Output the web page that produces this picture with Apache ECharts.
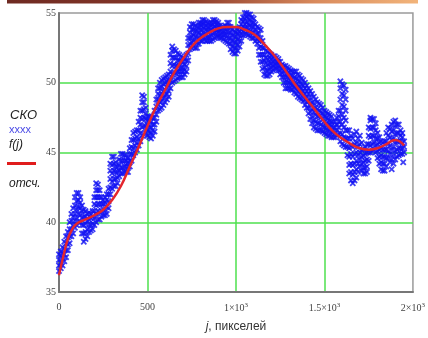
<!DOCTYPE html>
<html>
<head>
<meta charset="utf-8">
<script src="https://cdn.jsdelivr.net/npm/echarts@6/dist/echarts.min.js"></script>
<style>
html, body { margin: 0; padding: 0; background: #fff; }
#chart { width: 428px; height: 338px; }
</style>
</head>
<body>
<div id="chart"></div>
<script>
// СКО отсчётов: [j, y1, y2, ...]
var skoRows = [
    [0, 36.5, 36.9, 37.3, 37.7], [10, 36.7, 37.1, 37.6, 37.9], [20, 36.9, 37.4, 37.8, 38.2],
    [30, 37.2, 37.7, 38.1, 38.6], [40, 37.5, 38.0, 38.5, 39.0], [50, 38.0, 38.4, 38.9, 39.3],
    [60, 38.5, 39.0, 39.5, 40.0], [70, 39.0, 39.5, 40.1, 40.6], [80, 39.2, 39.8, 40.4, 41.0],
    [90, 39.6, 40.1, 40.6, 41.2, 41.8], [100, 39.8, 40.3, 40.9, 41.5, 42.1], [110, 40.0, 40.6, 41.1, 41.6, 42.1],
    [120, 40.0, 40.5, 41.0, 41.4, 41.8], [130, 39.2, 39.8, 40.3, 40.8, 41.2], [140, 38.6, 39.2, 39.8, 40.4, 40.9],
    [150, 38.8, 39.3, 39.9, 40.4, 40.8], [160, 39.0, 39.5, 40.1, 40.6], [170, 39.3, 39.8, 40.2, 40.7],
    [180, 39.4, 39.8, 40.3, 40.6], [190, 39.5, 39.9, 40.4, 40.8], [200, 39.8, 40.3, 40.8, 41.3, 41.8],
    [210, 40.0, 40.6, 41.2, 41.8, 42.3, 42.8], [220, 40.2, 40.8, 41.3, 41.8, 42.3, 42.7], [230, 40.2, 40.7, 41.3, 41.8, 42.3],
    [240, 40.4, 40.8, 41.3, 41.8], [250, 40.5, 40.9, 41.3, 41.6], [260, 40.5, 40.9, 41.4, 41.8],
    [270, 40.6, 41.1, 41.6, 42.0], [280, 41.0, 41.5, 42.0, 42.4], [290, 42.0, 42.5, 43.1, 43.7, 44.2],
    [300, 42.4, 42.9, 43.5, 44.1, 44.7], [310, 42.6, 43.1, 43.7, 44.2, 44.7], [320, 42.6, 43.1, 43.6, 44.0, 44.3],
    [330, 42.8, 43.2, 43.6, 44.0], [340, 43.3, 43.7, 44.1, 44.5], [350, 43.5, 43.9, 44.4, 44.9],
    [360, 43.5, 43.9, 44.4, 44.9], [370, 43.6, 44.0, 44.4, 44.8], [380, 43.6, 44.0, 44.4, 44.8],
    [390, 43.6, 44.0, 44.3, 44.6], [400, 44.0, 44.4, 44.9, 45.3], [410, 44.4, 44.9, 45.4, 45.9],
    [420, 44.8, 45.3, 45.9, 46.4], [430, 45.0, 45.5, 46.0, 46.5], [440, 45.2, 45.7, 46.1, 46.6],
    [450, 45.5, 46.0, 46.6, 47.2], [460, 45.8, 46.4, 47.0, 47.5, 48.0], [470, 46.2, 46.8, 47.4, 48.0, 48.6, 49.1],
    [480, 46.3, 46.9, 47.5, 48.1, 48.6, 49.0], [490, 46.4, 46.9, 47.4, 47.8, 48.2], [500, 46.2, 46.6, 47.0, 47.3, 47.6],
    [510, 46.1, 46.5, 46.9, 47.3, 47.6], [520, 46.0, 46.4, 46.8, 47.2, 47.5], [530, 46.2, 46.6, 47.0, 47.5],
    [540, 46.5, 47.0, 47.5, 48.0], [550, 47.2, 47.7, 48.3, 48.8], [560, 48.0, 48.4, 48.8, 49.2, 49.6],
    [570, 48.1, 48.6, 49.1, 49.6, 50.0], [580, 48.2, 48.7, 49.2, 49.7, 50.2], [590, 48.4, 48.9, 49.4, 49.9, 50.3],
    [600, 48.6, 49.1, 49.5, 50.0, 50.4], [610, 48.8, 49.2, 49.7, 50.1, 50.5], [620, 49.0, 49.4, 49.8, 50.2, 50.6],
    [630, 49.6, 50.2, 50.8, 51.4, 52.0], [640, 50.0, 50.6, 51.2, 51.8, 52.3, 52.6], [650, 50.1, 50.7, 51.3, 51.8, 52.4],
    [660, 50.2, 50.7, 51.2, 51.8, 52.3], [670, 50.3, 50.8, 51.2, 51.6, 52.1], [680, 50.4, 50.8, 51.2, 51.6, 52.0],
    [690, 50.4, 50.8, 51.1, 51.5, 51.9], [700, 50.4, 50.8, 51.1, 51.5, 51.8], [710, 50.6, 50.9, 51.3, 51.7],
    [720, 50.8, 51.2, 51.6, 52.0], [730, 51.6, 52.1, 52.7, 53.2], [740, 52.4, 52.8, 53.2, 53.6, 54.0],
    [750, 52.5, 52.9, 53.3, 53.8, 54.2], [760, 52.6, 53.0, 53.4, 53.8, 54.2], [770, 52.5, 52.9, 53.3, 53.7, 54.1],
    [780, 52.5, 52.9, 53.3, 53.7, 54.0], [790, 52.8, 53.2, 53.6, 54.0, 54.3], [800, 53.0, 53.4, 53.8, 54.1, 54.3],
    [810, 53.0, 53.4, 53.8, 54.2, 54.5], [820, 53.1, 53.5, 53.9, 54.2, 54.5], [830, 53.0, 53.4, 53.8, 54.1, 54.4],
    [840, 53.0, 53.3, 53.7, 54.0, 54.3], [850, 53.0, 53.3, 53.7, 54.0, 54.3], [860, 53.0, 53.4, 53.8, 54.1, 54.3],
    [870, 53.1, 53.5, 53.9, 54.2, 54.5], [880, 53.2, 53.6, 54.0, 54.3, 54.5], [890, 53.3, 53.6, 53.9, 54.2, 54.4],
    [900, 53.3, 53.6, 53.9, 54.1, 54.3], [910, 53.2, 53.5, 53.8, 54.1], [920, 53.2, 53.5, 53.8, 54.0],
    [930, 53.1, 53.4, 53.7, 54.0], [940, 53.0, 53.4, 53.7, 54.1], [950, 52.9, 53.3, 53.7, 54.0, 54.3],
    [960, 52.8, 53.2, 53.6, 54.0, 54.3], [970, 52.4, 52.8, 53.2, 53.6, 54.0], [980, 52.2, 52.6, 53.0, 53.4, 53.8],
    [990, 52.1, 52.5, 52.9, 53.3, 53.7], [1000, 52.1, 52.5, 52.9, 53.3, 53.6], [1010, 52.3, 52.7, 53.1, 53.5, 53.8],
    [1020, 52.6, 53.0, 53.4, 53.7, 54.0], [1030, 53.0, 53.4, 53.8, 54.2, 54.5], [1040, 53.4, 53.7, 54.0, 54.4, 54.7],
    [1050, 53.5, 53.9, 54.2, 54.6, 55.0], [1060, 53.5, 53.9, 54.3, 54.7, 55.0], [1070, 53.4, 53.8, 54.2, 54.6, 54.9],
    [1080, 53.3, 53.7, 54.1, 54.5, 54.9], [1090, 53.2, 53.6, 54.0, 54.3, 54.7], [1100, 53.2, 53.6, 54.0, 54.3, 54.6],
    [1110, 53.0, 53.4, 53.8, 54.2], [1120, 52.8, 53.1, 53.5, 54.0], [1130, 52.0, 52.5, 53.0, 53.5, 53.9],
    [1140, 51.5, 52.0, 52.6, 53.2, 53.8], [1150, 51.0, 51.5, 52.0, 52.5, 53.0], [1160, 50.6, 51.1, 51.6, 52.0, 52.5],
    [1170, 50.5, 50.9, 51.4, 51.8, 52.3], [1180, 50.5, 50.9, 51.3, 51.7, 52.2], [1190, 50.6, 51.0, 51.4, 51.8, 52.1],
    [1200, 50.8, 51.1, 51.4, 51.7, 52.0], [1210, 50.9, 51.2, 51.5, 51.9], [1220, 51.0, 51.3, 51.6, 51.9],
    [1230, 51.0, 51.3, 51.5, 51.8], [1240, 50.9, 51.2, 51.5, 51.7], [1250, 50.6, 50.9, 51.2, 51.5],
    [1260, 50.4, 50.7, 51.0, 51.3], [1270, 50.0, 50.4, 50.8, 51.2], [1280, 49.6, 50.0, 50.4, 50.8, 51.2],
    [1290, 49.6, 50.0, 50.4, 50.7, 51.1], [1300, 49.6, 50.0, 50.3, 50.7, 51.0], [1310, 49.5, 49.9, 50.2, 50.5, 50.9],
    [1320, 49.5, 49.8, 50.1, 50.5, 50.8], [1330, 49.3, 49.7, 50.0, 50.4, 50.8], [1340, 49.2, 49.6, 49.9, 50.3, 50.8],
    [1350, 49.0, 49.4, 49.8, 50.2, 50.6], [1360, 48.9, 49.3, 49.7, 50.1, 50.5], [1370, 48.8, 49.2, 49.6, 49.9, 50.3],
    [1380, 48.7, 49.1, 49.4, 49.8, 50.2], [1390, 48.4, 48.8, 49.2, 49.6, 50.0], [1400, 48.2, 48.6, 49.0, 49.4, 49.8],
    [1410, 47.8, 48.2, 48.7, 49.2, 49.6], [1420, 47.4, 47.9, 48.4, 48.9, 49.4], [1430, 47.1, 47.6, 48.1, 48.6, 49.2],
    [1440, 46.8, 47.3, 47.9, 48.5, 49.0], [1450, 46.7, 47.2, 47.7, 48.2, 48.8], [1460, 46.6, 47.1, 47.6, 48.1, 48.6],
    [1470, 46.6, 47.1, 47.6, 48.0, 48.5], [1480, 46.6, 47.0, 47.5, 47.9, 48.4], [1490, 46.5, 46.9, 47.4, 47.8, 48.2],
    [1500, 46.4, 46.8, 47.2, 47.6, 48.0], [1510, 46.3, 46.7, 47.1, 47.5, 47.9], [1520, 46.2, 46.6, 47.0, 47.4, 47.8],
    [1530, 46.2, 46.6, 47.0, 47.3, 47.7], [1540, 46.1, 46.5, 46.9, 47.2, 47.6], [1550, 46.1, 46.5, 46.8, 47.2],
    [1560, 46.1, 46.4, 46.8, 47.2], [1570, 46.2, 46.6, 47.0, 47.5], [1580, 46.3, 46.8, 47.2, 47.6, 48.0],
    [1590, 45.8, 46.4, 47.2, 48.0, 48.8, 49.6, 50.1], [1600, 45.6, 46.3, 47.0, 47.7, 48.4, 49.2, 49.9],
    [1610, 45.5, 46.1, 46.8, 47.5, 48.3, 49.1, 49.8], [1620, 45.4, 46.0, 46.6, 47.3, 48.0, 48.8, 49.5],
    [1630, 44.8, 45.4, 46.0, 46.6], [1640, 43.5, 44.1, 44.7, 45.3, 46.0, 46.6], [1650, 43.0, 43.6, 44.2, 44.9, 45.5, 46.2],
    [1660, 42.8, 43.4, 44.1, 44.7, 45.4, 46.0], [1670, 43.0, 43.6, 44.2, 44.9, 45.6, 46.3], [1680, 43.2, 43.8, 44.4, 45.0, 45.7, 46.5],
    [1690, 43.6, 44.2, 44.8, 45.4, 46.0], [1700, 44.0, 44.5, 45.0, 45.6, 46.2], [1710, 43.7, 44.2, 44.7, 45.2, 45.7],
    [1720, 43.5, 43.9, 44.3, 44.8, 45.2], [1730, 43.5, 43.9, 44.4, 44.9, 45.4], [1740, 43.6, 44.0, 44.5, 45.0, 45.6],
    [1750, 44.4, 45.0, 45.6, 46.2, 46.8], [1760, 45.0, 45.5, 46.1, 46.7, 47.3, 47.5], [1770, 45.1, 45.6, 46.2, 46.8, 47.4],
    [1780, 45.2, 45.7, 46.2, 46.8, 47.4], [1790, 45.0, 45.5, 46.0, 46.6, 47.1], [1800, 44.6, 45.1, 45.6, 46.0, 46.4],
    [1810, 44.2, 44.7, 45.2, 45.7, 46.1], [1820, 43.8, 44.3, 44.8, 45.3, 45.8], [1830, 43.7, 44.2, 44.7, 45.2, 45.7],
    [1840, 43.7, 44.2, 44.7, 45.2, 45.8], [1850, 44.0, 44.6, 45.2, 45.8, 46.4], [1860, 44.6, 45.1, 45.6, 46.2, 46.8],
    [1870, 44.3, 44.9, 45.5, 46.1, 46.7], [1880, 43.8, 44.5, 45.2, 45.9, 46.5, 47.0], [1890, 44.2, 44.8, 45.4, 46.0, 46.6, 47.2],
    [1900, 44.5, 45.1, 45.7, 46.3, 46.9, 47.3], [1910, 44.7, 45.2, 45.8, 46.4, 47.0], [1920, 44.8, 45.3, 45.8, 46.4, 47.0],
    [1930, 44.9, 45.3, 45.8, 46.2, 46.6], [1940, 44.9, 45.3, 45.7, 46.1, 46.4], [1950, 45.0, 45.4, 45.8],
    [1945, 44.3]
];

// аппроксимация f(j)
var fJ = [0, 25, 50, 75, 100, 150, 200, 250, 300, 350, 400, 450, 500, 550, 600, 650, 700, 750, 800, 850,
    900, 950, 1000, 1050, 1100, 1150, 1200, 1250, 1300, 1350, 1400, 1450, 1500, 1550, 1600, 1650, 1700,
    1750, 1800, 1850, 1900, 1950];
var fY = [36.2, 37.6, 38.8, 39.5, 39.9, 40.2, 40.5, 40.9, 41.6, 42.6, 44.0, 45.4, 46.9, 48.3, 49.5, 50.7, 51.7,
    52.6, 53.2, 53.6, 53.9, 54.0, 54.0, 53.8, 53.5, 52.9, 52.2, 51.4, 50.5, 49.6, 48.8, 48.0, 47.2, 46.5,
    46.0, 45.6, 45.3, 45.2, 45.3, 45.6, 45.9, 45.5];

// подписи оси j
var xTickLabels = {
    0: '0',
    500: '500',
    1000: '1×10{s|3}',
    1500: '1.5×10{s|3}',
    2000: '2×10{s|3}'
};

var skoPoints = [];
skoRows.forEach(function (row) {
    for (var k = 1; k < row.length; k++) {
        skoPoints.push([row[0], row[k]]);
    }
});
var fPoints = fJ.map(function (j, i) {
    return [j, fY[i]];
});

var chart = echarts.init(document.getElementById('chart'));

var serif = '"Liberation Serif", "DejaVu Serif", serif';
var sans = '"Liberation Sans", Arial, sans-serif';

var option = {
    animation: false,
    backgroundColor: '#fff',
    grid: {
        left: 59,
        right: 13,
        top: 13,
        bottom: 39,
        show: true,
        borderColor: '#9a9a9a',
        borderWidth: 1.5
    },
    xAxis: {
        type: 'value',
        min: 0,
        max: 2000,
        interval: 500,
        name: '{i|j}, пикселей',
        nameLocation: 'middle',
        nameGap: 29,
        nameTextStyle: {
            fontFamily: sans,
            fontSize: 12,
            color: '#333',
            rich: {
                i: { fontFamily: sans, fontSize: 12, fontStyle: 'italic', color: '#333' }
            }
        },
        axisLine: { lineStyle: { color: '#777', width: 2 } },
        axisTick: { show: false },
        axisLabel: {
            margin: 10,
            fontFamily: serif,
            fontSize: 10,
            color: '#444',
            formatter: function (v) {
                return xTickLabels[v] !== undefined ? xTickLabels[v] : '';
            },
            rich: {
                s: { fontFamily: serif, fontSize: 7, color: '#444', verticalAlign: 'top', padding: [0, 0, 5, 0] }
            }
        },
        splitLine: {
            show: true,
            showMinLine: false,
            showMaxLine: false,
            lineStyle: { color: '#4ee04e', width: 1.5 }
        }
    },
    yAxis: {
        type: 'value',
        min: 35,
        max: 55,
        interval: 5,
        axisLine: { show: true, lineStyle: { color: '#777', width: 2 } },
        axisTick: { show: false },
        axisLabel: {
            margin: 3,
            fontFamily: serif,
            fontSize: 10,
            color: '#444'
        },
        splitLine: {
            show: true,
            showMinLine: false,
            showMaxLine: false,
            lineStyle: { color: '#4ee04e', width: 1.5 }
        }
    },
    series: [
        {
            name: 'СКО',
            type: 'scatter',
            data: skoPoints,
            symbol: 'path://M0,2L2,0L5,3L8,0L10,2L7,5L10,8L8,10L5,7L2,10L0,8L3,5Z',
            symbolSize: 6.5,
            itemStyle: { color: '#1212f2' },
            z: 2
        },
        {
            name: 'f(j)',
            type: 'line',
            data: fPoints,
            smooth: true,
            showSymbol: false,
            lineStyle: { color: '#e3262e', width: 2.5 },
            z: 3
        }
    ],
    graphic: [
        {
            type: 'rect',
            shape: { x: 7, y: 0, width: 411, height: 3.5 },
            style: {
                fill: new echarts.graphic.LinearGradient(0, 0, 1, 0, [
                    { offset: 0, color: '#6e2a22' },
                    { offset: 0.45, color: '#8c3a2a' },
                    { offset: 0.75, color: '#d98a5c' },
                    { offset: 1, color: '#f2b47a' }
                ])
            }
        },
        {
            type: 'text', left: 10, top: 109,
            style: { text: 'СКО', font: 'italic 13px ' + sans, fill: '#222' }
        },
        {
            type: 'text', left: 9, top: 124,
            style: { text: 'xxxx', font: '11px ' + sans, fill: '#4a4ae6' }
        },
        {
            type: 'text', left: 9, top: 139,
            style: { text: 'f(j)', font: 'italic 12px ' + sans, fill: '#222' }
        },
        {
            type: 'rect',
            shape: { x: 7, y: 162, width: 29, height: 3 },
            style: { fill: '#e01c1c' }
        },
        {
            type: 'text', left: 9, top: 178,
            style: { text: 'отсч.', font: 'italic 12px ' + sans, fill: '#222' }
        }
    ]
};

chart.setOption(option);
</script>
</body>
</html>
